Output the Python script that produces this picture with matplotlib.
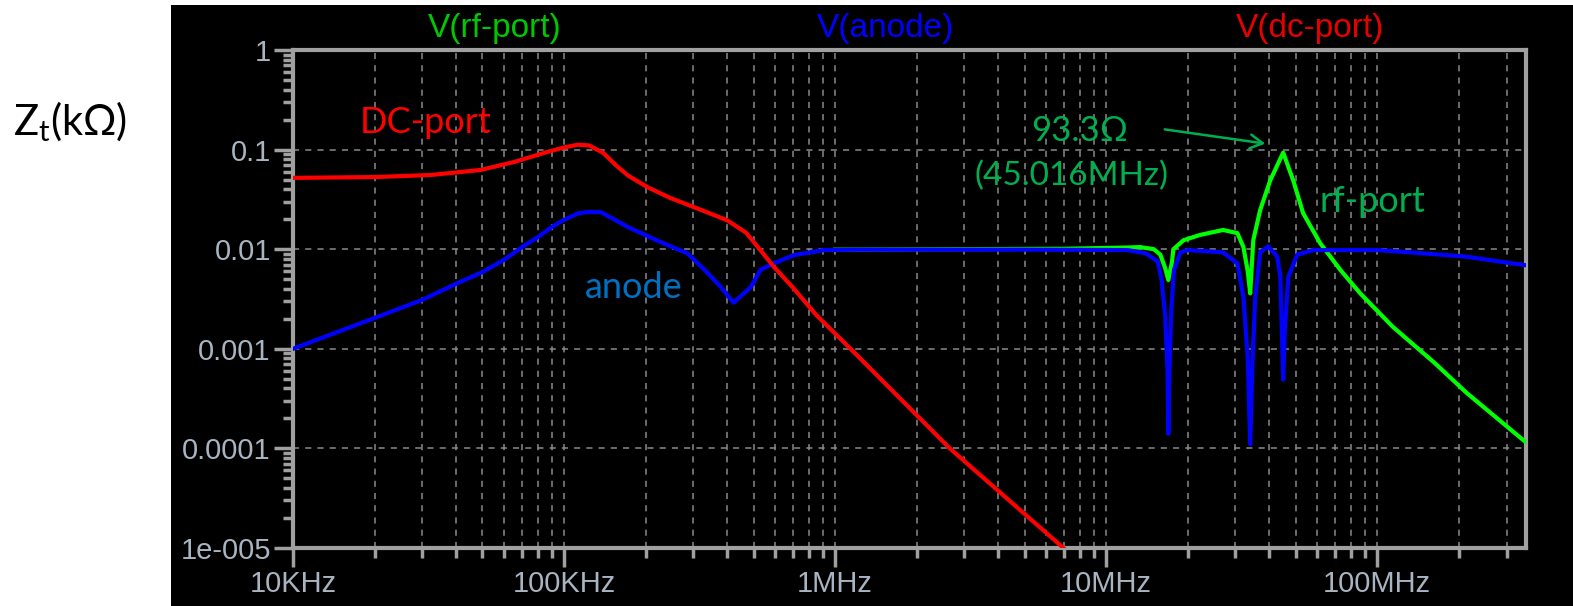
import matplotlib
matplotlib.use("Agg")
import matplotlib.pyplot as plt
from matplotlib.patches import Rectangle, FancyArrowPatch
from matplotlib.ticker import LogLocator, FixedLocator, FixedFormatter, NullFormatter

# данные (Гц, кОм)

freq_dc = [1e4, 2e4, 3.23e4, 4.93e4, 6.53e4, 8.71e4, 1.0e5, 1.124e5, 1.24e5, 1.40e5,
           1.55e5, 1.72e5, 2.03e5, 2.47e5, 3.0e5, 4.0e5, 4.7e5, 5.3e5, 5.93e5, 7.0e5,
           8.5e5, 1.14e6, 2.65e6, 6.96e6, 8.0e6]
z_dc = [0.052, 0.053, 0.0556, 0.0625, 0.075, 0.095, 0.105, 0.112, 0.110, 0.092,
        0.070, 0.055, 0.042, 0.0326, 0.0266, 0.0195, 0.0146, 0.0098, 0.0067, 0.0041,
        0.0022, 0.001, 1e-4, 1e-5, 7e-6]

freq_an = [1e4, 2e4, 3e4, 4e4, 5e4, 6e4, 7e4, 8e4, 9e4, 1.0e5,
           1.13e5, 1.25e5, 1.37e5, 1.72e5, 2.27e5, 2.85e5, 3.3e5, 3.78e5, 4.22e5, 4.9e5,
           5.3e5, 5.93e5, 7.03e5, 9.07e5, 1.2e6, 5e6, 1.2e7, 1.4e7, 1.55e7, 1.60e7,
           1.65e7, 1.685e7, 1.696e7, 1.71e7, 1.74e7, 1.78e7, 1.88e7, 2.0e7, 2.7e7, 3.05e7,
           3.21e7, 3.33e7, 3.40e7, 3.47e7, 3.55e7, 3.70e7, 3.96e7, 4.28e7, 4.39e7, 4.45e7,
           4.50e7, 4.56e7, 4.70e7, 5.07e7, 5.81e7, 1.0e8, 1.32e8, 2.15e8, 2.84e8, 3.54e8]
z_an = [0.001, 0.00204, 0.0031, 0.0045, 0.0059, 0.0078, 0.0105, 0.0132, 0.0167, 0.0197,
        0.023, 0.0237, 0.0235, 0.0167, 0.0118, 0.0091, 0.0062, 0.0042, 0.0029, 0.0042,
        0.0062, 0.0072, 0.0087, 0.0098, 0.0099, 0.0099, 0.0098, 0.0091, 0.0075, 0.0050,
        0.0022, 0.0006, 1.4e-4, 0.0006, 0.0025, 0.0062, 0.0093, 0.0098, 0.0093, 0.0072,
        0.0033, 0.0008, 1.1e-4, 0.0008, 0.0033, 0.0093, 0.0107, 0.0084, 0.0053, 0.0015,
        4.9e-4, 0.0015, 0.0053, 0.0088, 0.0098, 0.0098, 0.0093, 0.0084, 0.0075, 0.0069]

freq_rf = [1e6, 7e6, 1.2e7, 1.337e7, 1.5e7, 1.585e7, 1.65e7, 1.696e7, 1.75e7, 1.77e7,
           1.93e7, 2.22e7, 2.70e7, 3.05e7, 3.21e7, 3.33e7, 3.40e7, 3.49e7, 3.70e7, 4.03e7,
           4.50e7, 4.90e7, 5.33e7, 6.16e7, 7.31e7, 8.66e7, 1.14e8, 1.63e8, 2.14e8, 3.54e8]
z_rf = [0.0099, 0.0101, 0.0104, 0.0105, 0.0100, 0.0088, 0.0065, 0.0049, 0.0075, 0.0100,
        0.0123, 0.0139, 0.0156, 0.0145, 0.0105, 0.0060, 0.0036, 0.0123, 0.0247, 0.049,
        0.0933, 0.049, 0.023, 0.0115, 0.0062, 0.0036, 0.00167, 7.2e-4, 3.6e-4, 1.15e-4]

x_ticks = [1e4, 1e5, 1e6, 1e7, 1e8]
x_labels = ['10KHz', '100KHz', '1MHz', '10MHz', '100MHz']
y_ticks = [1, 0.1, 0.01, 0.001, 0.0001, 1e-5]
y_labels = ['1', '0.1', '0.01', '0.001', '0.0001', '1e-005']

W, H = 1573, 606
frame = '#a0a0a0'
tick_txt = '#a8b4c0'


def fx(px):
    return px / W


def fy(py):
    return 1 - py / H


fig = plt.figure(figsize=(W / 100, H / 100), dpi=100, facecolor='white')
fig.patches.append(Rectangle((fx(171), 0), 1 - fx(171), fy(5), transform=fig.transFigure,
                             facecolor='black', edgecolor='none', zorder=-10))

ax = fig.add_axes([fx(293), fy(548), fx(1526) - fx(293), fy(50) - fy(548)])
ax.set_facecolor('black')
ax.set_xscale('log')
ax.set_yscale('log')

ax.plot(freq_rf, z_rf, color='#00ff00', lw=3, zorder=3, solid_joinstyle='round')
ax.plot(freq_an, z_an, color='#0000ff', lw=3, zorder=4, solid_joinstyle='round')
ax.plot(freq_dc, z_dc, color='#ff0000', lw=3, zorder=5, solid_joinstyle='round')

ax.set_xlim(1e4, 3.54e8)
ax.set_ylim(1e-5, 1)

ax.xaxis.set_major_locator(FixedLocator(x_ticks))
ax.xaxis.set_major_formatter(FixedFormatter(x_labels))
ax.xaxis.set_minor_locator(LogLocator(base=10, subs=range(2, 10), numticks=20))
ax.xaxis.set_minor_formatter(NullFormatter())
ax.yaxis.set_major_locator(FixedLocator(y_ticks))
ax.yaxis.set_major_formatter(FixedFormatter(y_labels))
ax.yaxis.set_minor_locator(LogLocator(base=10, subs=range(2, 10), numticks=20))
ax.yaxis.set_minor_formatter(NullFormatter())

ax.grid(True, which='major', axis='both', color='#8a8a8a', ls=(0, (4, 4)), lw=1.1, zorder=1)
ax.grid(True, which='minor', axis='x', color='#8a8a8a', ls=(0, (4, 4)), lw=1.1, zorder=1)

for s in ax.spines.values():
    s.set_color(frame)
    s.set_linewidth(3)
ax.tick_params(which='major', direction='out', length=14, width=2.5, color=frame,
               labelcolor=tick_txt, labelsize=21, pad=2)
ax.tick_params(which='minor', direction='out', length=7, width=2.5, color=frame)
for lab in ax.get_xticklabels() + ax.get_yticklabels():
    lab.set_family('Liberation Sans')

# заголовки трасс
title_font = dict(family='Liberation Sans', fontsize=24, ha='center', va='baseline')
fig.text(fx(495), fy(37), 'V(rf-port)', color='#00c800', **title_font)
fig.text(fx(886), fy(37), 'V(anode)', color='#0000ff', **title_font)
fig.text(fx(1310), fy(37), 'V(dc-port)', color='#e80000', **title_font)

# подписи
note = dict(family='Lato', ha='left', va='baseline')
fig.text(fx(360), fy(133), 'DC-port', color='#ff0000', fontsize=26, **note)
fig.text(fx(585), fy(298), 'anode', color='#0070c0', fontsize=26, **note)
fig.text(fx(1320), fy(212), 'rf-port', color='#00b050', fontsize=26, **note)
fig.text(fx(1031), fy(141), '93.3Ω', color='#00b050', fontsize=25, **note)
fig.text(fx(974), fy(185), '(45.016MHz)', color='#00b050', fontsize=24, **note)
fig.text(fx(13), fy(135), r'Z$_\mathregular{t}$(kΩ)', color='black', fontsize=30, **note)

fig.add_artist(FancyArrowPatch(
    (fx(1162), fy(129)), (fx(1268), fy(144)), transform=fig.transFigure,
    arrowstyle='->,head_length=9,head_width=5', color='#00b050', lw=1.8, zorder=10))

fig.savefig('out.png', dpi=100, facecolor='white')
